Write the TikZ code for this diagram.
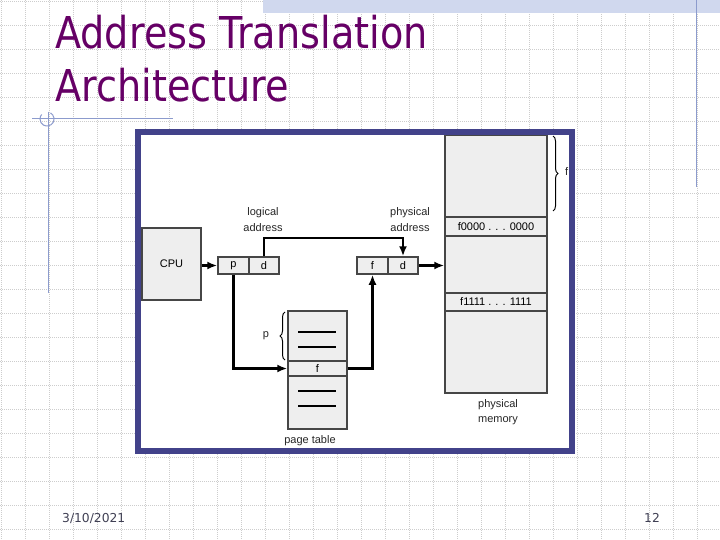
\documentclass[tikz,border=0pt]{standalone}
\usepackage{fontspec}
\usepackage{graphicx}
\setmainfont{Liberation Sans}
\newfontfamily\tfont{DejaVu Sans}
\usetikzlibrary{arrows.meta,decorations.pathreplacing}
\definecolor{framec}{RGB}{66,66,138}
\definecolor{titlec}{RGB}{102,0,102}
\definecolor{decoc}{RGB}{140,155,205}
\definecolor{gridc}{RGB}{205,205,205}
\definecolor{hatchc}{RGB}{208,216,238}
\definecolor{boxfill}{RGB}{238,238,238}
\definecolor{boxline}{RGB}{70,70,70}
\definecolor{footc}{RGB}{64,64,84}
\tikzset{
  gridline/.style={gridc, line width=0.6pt, dash pattern=on 1pt off 1pt},
  cell/.style={draw=boxline, fill=boxfill, line width=1.5pt, inner sep=0pt, font=\fontsize{11}{13}\selectfont},
  lbl/.style={inner sep=0pt, font=\fontsize{11}{13}\selectfont, text=black!85},
  arr/.style={line width=2.2pt, -{Latex[length=10pt,width=8pt]}},
  tline/.style={line width=1.1pt, black},
  deco/.style={decoc, line width=1pt},
  brc/.style={decorate, decoration={brace, amplitude=5pt}, line width=1pt}
}
\begin{document}
\begin{tikzpicture}[x=1pt,y=-1pt]
\useasboundingbox (0,0) rectangle (720,540);
\fill[white] (0,0) rectangle (720,540);
% grid
\foreach \k in {0,...,30} {
  \draw[gridline] (1.5+24*\k,0) -- (1.5+24*\k,540);
}
\foreach \k in {0,...,22} {
  \draw[gridline] (0,1+24*\k) -- (720,1+24*\k);
}
% top band and slide decorations
\fill[hatchc] (263,0) rectangle (720,13);
\draw[deco] (696,0) -- (696,187);
\draw[deco] (32,119) -- (173,119);
\draw[deco] (48,112) -- (48,293);
\draw[deco] (47,119) ++(-60:7) arc (-60:220:7);
% title
\node[anchor=base west, inner sep=0pt, text=titlec] (t1) at (55,49) {\scalebox{0.87}[1]{\tfont\fontsize{43.9}{50}\selectfont Address Translation}};
\node[anchor=base west, inner sep=0pt, text=titlec] (t2) at (55,102) {\scalebox{0.87}[1]{\tfont\fontsize{43.9}{50}\selectfont Architecture}};
% footer
\node[anchor=base west, inner sep=0pt, text=footc] (date) at (62,522) {\tfont\fontsize{12.3}{14}\selectfont 3/10/2021};
\node[anchor=base, inner sep=0pt, text=footc] (num) at (652,522) {\tfont\fontsize{12.3}{14}\selectfont 12};
% frame interior
\fill[white] (138,132) rectangle (572,450.5);
% CPU
\node[cell, minimum width=59pt, minimum height=72pt] (cpu) at (171.5,264) {CPU};
% logical address
\node[cell, minimum width=31pt, minimum height=17pt] (lp) at (233.5,265.5) {p};
\node[cell, minimum width=30pt, minimum height=17pt] (ld) at (264,265.5) {d};
% physical address
\node[cell, minimum width=31pt, minimum height=17pt] (pf) at (372.5,265.5) {f};
\node[cell, minimum width=30pt, minimum height=17pt] (pd) at (403,265.5) {d};
\node[lbl] (la1) at (263,213) {logical};
\node[lbl] (la2) at (263,228) {address};
\node[lbl] (pa1) at (410,213) {physical};
\node[lbl] (pa2) at (410,228) {address};
% page table
\node[cell, minimum width=59pt, minimum height=50pt] (pttop) at (317.5,336) {};
\node[cell, minimum width=59pt, minimum height=15pt] (ptf) at (317.5,368.5) {f};
\node[cell, minimum width=59pt, minimum height=53pt] (ptbot) at (317.5,402.5) {};
\draw[tline] (298,332) -- (336,332);
\draw[tline] (298,347) -- (336,347);
\draw[tline] (298,391) -- (336,391);
\draw[line width=2pt] (298,406) -- (336,406);
\node[lbl] (ptl) at (310,441) {page table};
\draw[brc] (285,360) -- (285,312);
\node[lbl] (pp) at (266,336) {p};
% physical memory
\node[cell, minimum width=102pt, minimum height=258pt] (mem) at (496,264) {};
\node[cell, line width=1.1pt, minimum width=102pt, minimum height=19pt] (r0) at (496,226.5) {f0000 . . . 0000};
\node[cell, line width=1.1pt, minimum width=102pt, minimum height=18pt] (r1) at (496,302) {f1111 . . . 1111};
\draw[boxline, line width=1.3pt] (mem.north west) rectangle (mem.south east);
\node[lbl] (pm1) at (498,405) {physical};
\node[lbl] (pm2) at (498,421) {memory};
\draw[brc] (553,136) -- (553,211);
\node[lbl, anchor=west] (mf) at (565,172) {f};
% connectors
\draw[arr] (cpu.east |- lp.west) -- (lp.west);
\draw[arr] (ld.north) -- ++(0,-18) -| (pd.north);
\draw[arr] (pd.east) -- (pd.east -| mem.west);
\draw[arr] (lp.south) |- (ptf.west);
\draw[arr] (ptf.east) -| (pf.south);
% frame
\draw[framec, line width=6pt] (138,132) rectangle (572,450.5);
\end{tikzpicture}
\end{document}
